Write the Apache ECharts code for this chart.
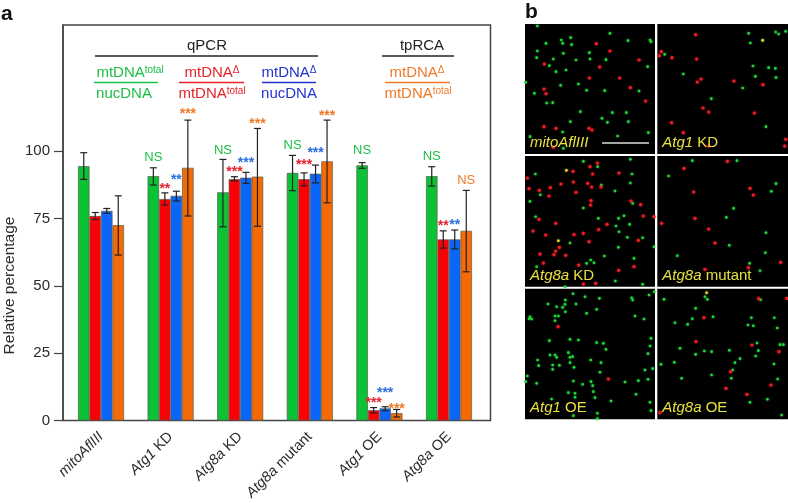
<!DOCTYPE html>
<html><head><meta charset="utf-8">
<style>html,body{margin:0;padding:0;background:#fff}#c{width:788px;height:503px}</style>
<script src="https://cdn.jsdelivr.net/npm/echarts@6/dist/echarts.min.js"></script>
</head><body><div id="c"></div>
<script>
const categories = ['{i|mitoAflIII}', '{i|Atg1} KD', '{i|Atg8a} KD', '{i|Atg8a} mutant', '{i|Atg1} OE', '{i|Atg8a} OE'];
const yTicks = [0, 25, 50, 75, 100];
const seriesNames = ['mtDNAtotal/nucDNA', 'mtDNAdelta/mtDNAtotal', 'mtDNAdelta/nucDNA', 'tpRCA'];
const greenVals  = [94.4, 90.7, 84.7, 91.9, 94.7, 90.7];
const redVals    = [75.9, 82.2, 89.6, 89.6, 3.8, 67.2];
const blueVals   = [77.8, 83.4, 90.1, 91.6, 4.5, 67.2];
const orangeVals = [72.5, 93.8, 90.5, 96.2, 2.7, 70.4];
const greenErr  = [[89.5,99.4],[87.4,93.8],[71.9,96.9],[85.3,98.4],[93.6,95.7],[87,94.2]];
const redErr    = [[74.6,77.2],[80,84.5],[88.9,90.5],[87.1,91.9],[2.8,4.8],[64,70.4]];
const blueErr   = [[76.9,78.7],[81.5,85.1],[88,92.1],[88.2,94.8],[3.6,5.1],[63.7,70.7]];
const orangeErr = [[61.4,83.4],[75.9,111.5],[72.1,108.4],[80.8,111.5],[1.3,4.1],[55.2,85.4]];
// group, series, y value of the text, text
const marks = [
 [1,0,97.7,'NS'],[1,1,87,'**'],[1,2,90.2,'**'],[1,3,114.9,'***'],
 [2,0,100.4,'NS'],[2,1,93.2,'***'],[2,2,96.7,'***'],[2,3,111.3,'***'],
 [3,0,102.2,'NS'],[3,1,96,'***'],[3,2,100.4,'***'],[3,3,113.9,'***'],
 [4,0,100.1,'NS'],[4,1,7.7,'***'],[4,2,11.4,'***'],[4,3,5.4,'***'],
 [5,0,97.9,'NS'],[5,1,73.4,'**'],[5,2,73.6,'**'],[5,3,89.1,'NS']
];
const p1Green=[[52,78],[78,130],[124,120],[128,130],[152,113],[155,134],[270,100],[324,122],[390,120],[393,125],[52,153],[130,160],[208,158],[210,177],[100,177],[168,180],[258,179],[88,197],[138,210],[383,200],[108,215],[17,247],[122,256],[175,252],[200,271],[254,272],[357,273],[43,280],[80,309],[98,308],[181,335],[277,338],[319,338],[246,355],[325,365],[262,367],[151,365],[128,396],[385,398],[293,408],[30,410],[130,445],[50,173]];
const p1Red=[[229,131],[270,153],[73,192],[357,180],[239,201],[208,234],[299,234],[72,267],[78,281],[331,263],[377,303],[72,380],[108,385],[207,385],[216,390],[100,442]];
const p1Yellow=[];
const p2Green=[[686,100],[767,96],[776,102],[797,94],[691,129],[434,163],[699,198],[746,203],[766,205],[706,229],[768,233],[490,222],[574,296],[668,264],[738,380]];
const p2Red=[[527,104],[424,155],[418,167],[456,173],[530,177],[543,237],[532,246],[642,243],[729,254],[549,324],[566,336],[703,339],[455,368],[490,398],[797,418],[794,438],[566,438]];
const p2Yellow=[[728,121]];
const p3Green=[[190,484],[331,478],[46,522],[233,500],[336,522],[331,549],[244,555],[285,573],[61,584],[30,604],[190,624],[338,610],[312,647],[47,650],[235,655],[296,655],[329,673],[288,678],[297,695],[368,713],[322,712],[150,729],[402,740],[295,742],[50,800],[200,790],[212,780],[222,788],[253,768],[342,775],[286,843],[368,853],[135,860]];
const p3Red=[[232,489],[210,500],[297,519],[218,522],[159,514],[22,534],[27,566],[58,571],[91,563],[123,552],[160,546],[203,550],[215,561],[243,561],[168,577],[87,588],[213,602],[333,603],[362,614],[212,615],[370,648],[402,650],[57,658],[107,670],[261,673],[236,689],[39,693],[77,705],[162,704],[190,700],[207,725],[355,721],[118,742],[60,762],[102,764],[107,753],[137,766],[70,789],[176,795],[296,811],[342,800],[190,852],[227,850]];
const p3Yellow=[[139,511],[115,722]];
const p4Green=[[517,482],[651,482],[446,528],[768,551],[754,574],[641,625],[619,652],[738,698],[628,736],[472,767],[736,758],[689,790],[720,812]];
const p4Red=[[622,484],[492,505],[690,565],[700,585],[521,576],[525,655],[425,670],[566,687],[585,729],[782,787],[685,803],[555,808]];
const p4Yellow=[];
const p5Green=[[159,131],[136,150],[135,163],[168,162],[136,185],[128,172],[110,170],[84,162],[195,140],[238,145],[335,143],[338,150],[387,135],[403,125],[30,200],[35,207],[27,206],[105,198],[115,198],[105,212],[200,190],[230,178],[345,198],[372,207],[150,268],[175,270],[88,272],[230,278],[250,280],[258,298],[393,265],[390,288],[384,311],[145,308],[150,322],[158,320],[105,315],[90,315],[110,322],[212,330],[53,330],[56,347],[98,345],[118,346],[150,338],[162,352],[243,338],[398,356],[375,360],[22,378],[17,395],[160,393],[188,403],[218,407],[315,396],[355,392],[384,388],[145,428],[165,430],[165,442],[220,425],[225,443],[348,433],[273,453],[95,447],[390,457],[393,482],[232,490],[160,497],[232,506],[50,400],[240,367],[98,358],[213,395]];
const p5Red=[[114,230],[265,387]];
const p5Yellow=[];
const p6Green=[[555,140],[562,148],[722,149],[432,148],[527,175],[517,206],[579,200],[465,218],[503,223],[694,203],[763,203],[684,225],[700,227],[772,234],[711,279],[780,284],[790,284],[480,295],[715,302],[707,318],[628,301],[527,313],[575,305],[660,326],[645,338],[423,343],[762,342],[638,360],[634,385],[485,385],[575,375],[773,387],[690,457],[742,448],[785,495],[553,303],[463,337]];
const p6Red=[[716,146],[800,145],[552,203],[528,275],[696,285],[777,305],[632,365],[618,415],[753,405],[681,433],[420,488]];
const p6Yellow=[[560,128]];
const panelLabels=['{i|mitoAflIII}','{i|Atg1} KD','{i|Atg8a} KD','{i|Atg8a} mutant','{i|Atg1} OE','{i|Atg8a} OE'];

const FONT='Liberation Sans';
const colors=['#0bc235','#fb0006','#0a66f8','#f56a04'];
const textColors=['#1cbf45','#e8232c','#2a6fe0','#ef7a2a'];
const vals=[greenVals,redVals,blueVals,orangeVals];
const errs=[greenErr,redErr,blueErr,orangeErr];
const BW=11.5, YMAX=146.8, TOP=25, BOTTOM=82.5;

const grids=[
 {left:63,right:297.5,top:TOP,bottom:BOTTOM,show:true,borderColor:'#444',borderWidth:1.5,backgroundColor:'#fff',z:0},
 {left:66.2,width:417.6,top:TOP,bottom:BOTTOM}
];
const xAxes=[
 {gridIndex:0,type:'value',min:0,max:1,show:false},
 {gridIndex:1,type:'category',data:categories,axisLine:{show:false},axisTick:{show:false},
  axisLabel:{rotate:45,interval:0,margin:14,fontFamily:FONT,fontSize:14.5,color:'#2a2a2a',
   rich:{i:{fontStyle:'italic',fontFamily:FONT,fontSize:14.5,color:'#2a2a2a'}}}}
];
const yAxes=[
 {gridIndex:0,type:'value',min:0,max:YMAX,splitLine:{show:false},
  axisLine:{show:true,lineStyle:{color:'#444',width:1.5}},
  axisTick:{show:true,length:9,customValues:yTicks,lineStyle:{color:'#444',width:1.2}},
  axisLabel:{margin:13,customValues:yTicks,fontFamily:FONT,fontSize:15,color:'#2a2a2a'}},
 {gridIndex:1,type:'value',min:0,max:YMAX,show:false}
];
const series=[];
vals.forEach((v,s)=>{
 series.push({type:'bar',name:seriesNames[s],xAxisIndex:1,yAxisIndex:1,data:v,barWidth:BW,barGap:0,
  itemStyle:{color:colors[s],borderColor:'#5a5a4a',borderWidth:0.7},z:3,silent:true});
});
errs.forEach((e,s)=>{
 series.push({type:'custom',xAxisIndex:1,yAxisIndex:1,z:5,silent:true,clip:false,
  data:e.map((d,i)=>[i,d[0],d[1]]),
  encode:{x:0,y:[1,2]},
  renderItem(p,api){
   const lo=api.coord([api.value(0),api.value(1)]), hi=api.coord([api.value(0),api.value(2)]);
   const x=lo[0]+(s-1.5)*BW, st={stroke:'#222',lineWidth:1.2};
   return {type:'group',children:[
    {type:'line',shape:{x1:x,y1:lo[1],x2:x,y2:hi[1]},style:st},
    {type:'line',shape:{x1:x-3.5,y1:lo[1],x2:x+3.5,y2:lo[1]},style:st},
    {type:'line',shape:{x1:x-3.5,y1:hi[1],x2:x+3.5,y2:hi[1]},style:st}]};
  }});
});
series.push({type:'custom',xAxisIndex:1,yAxisIndex:1,z:6,silent:true,clip:false,
 data:marks.map(m=>[m[0],m[2],m[1],m[3]]),
 encode:{x:0,y:1},
 renderItem(p,api){
  const m=marks[p.dataIndex], c=api.coord([m[0],m[2]]), star=m[3]!=='NS';
  return {type:'text',x:c[0]+(m[1]-1.5)*BW,y:c[1]+(star?3:0),style:{text:m[3],align:'center',verticalAlign:'middle',
   fontFamily:FONT,fontSize:star?14:13,fontWeight:star?'bold':'normal',fill:textColors[m[1]]}};
 }});

const panels=[
 [525,24,130,130,15,405,72,462,p1Green,p1Red,p1Yellow],
 [657.3,24,130.7,130,412,804,72,462,p2Green,p2Red,p2Yellow],
 [525,156,130,130.7,15,405,468,860,p3Green,p3Red,p3Yellow],
 [657.3,156,130.7,130.7,412,804,468,860,p4Green,p4Red,p4Yellow],
 [525,288.7,130,130.6,15,405,116,508,p5Green,p5Red,p5Yellow],
 [657.3,288.7,130.7,130.6,412,804,116,508,p6Green,p6Red,p6Yellow]
];
const dotCols=['#22d83c','#ee1c24','#e8e030'];
const graphics=[];
panels.forEach((p,i)=>{
 const g=grids.length;
 grids.push({left:p[0],top:p[1],width:p[2],height:p[3],show:true,backgroundColor:'#000',borderWidth:0});
 xAxes.push({gridIndex:g,type:'value',min:p[4],max:p[5],show:false});
 yAxes.push({gridIndex:g,type:'value',min:p[6],max:p[7],inverse:true,show:false});
 [p[8],p[9],p[10]].forEach((d,k)=>{
  series.push({type:'scatter',xAxisIndex:g,yAxisIndex:g,data:d,symbolSize:k===1?3.2:2.6,silent:true,clip:true,
   itemStyle:{color:dotCols[k],opacity:1,shadowBlur:2,shadowColor:dotCols[k]}});
 });
 graphics.push({type:'text',z:100,x:p[0]+5,y:p[1]+p[3]-11,style:{text:panelLabels[i],align:'left',verticalAlign:'middle',
  fontFamily:FONT,fontSize:15,fill:'#e8e040',rich:{i:{fontStyle:'italic',fontFamily:FONT,fontSize:15,fill:'#e8e040'}}}});
});
function txt(x,y,t,fill,extra){
 return Object.assign({type:'text',z:100,x,y,style:{text:t,align:'center',verticalAlign:'middle',fontFamily:FONT,fontSize:15,fill,
  rich:{s:{fontFamily:FONT,fontSize:10,fill,verticalAlign:'top',lineHeight:14,padding:[0,0,5,0]},n:{fontFamily:FONT,fontSize:15,fill}}}},extra||{});
}
function ln(x1,x2,y,stroke){return {type:'line',z:100,shape:{x1,y1:y,x2,y2:y},style:{stroke,lineWidth:1.3}};}
graphics.push(
 {type:'text',z:100,x:1,y:14,style:{text:'a',fontFamily:FONT,fontSize:21,fontWeight:'bold',fill:'#111',verticalAlign:'middle'}},
 {type:'text',z:100,x:525,y:12,style:{text:'b',fontFamily:FONT,fontSize:21,fontWeight:'bold',fill:'#111',verticalAlign:'middle'}},
 txt(207,46,'qPCR','#222'),ln(95,318,56,'#222'),
 txt(422,46,'tpRCA','#222'),ln(382,454,56,'#222'),
 txt(130,73,'{n|mtDNA}{s|total}',textColors[0]),ln(94,158,82.5,textColors[0]),txt(124,93.5,'nucDNA',textColors[0]),
 txt(212,73,'{n|mtDNA}{s|Δ}',textColors[1]),ln(179,244,82.5,textColors[1]),txt(212,93.5,'{n|mtDNA}{s|total}',textColors[1]),
 txt(289,73,'{n|mtDNA}{s|Δ}','#2233cc'),ln(262,316,82.5,'#2233cc'),txt(289,93.5,'nucDNA','#2233cc'),
 txt(417,73,'{n|mtDNA}{s|Δ}',textColors[3]),ln(385,450,82.5,textColors[3]),txt(418,93.5,'{n|mtDNA}{s|total}',textColors[3]),
 {type:'text',z:100,x:10,y:285.5,rotation:Math.PI/2,style:{text:'Relative percentage',align:'center',verticalAlign:'middle',fontFamily:FONT,fontSize:15.5,fill:'#2a2a2a'}},
 {type:'line',z:100,shape:{x1:602,y1:143,x2:649,y2:143},style:{stroke:'#ddd',lineWidth:1.5}}
);
const chart=echarts.init(document.getElementById('c'),null,{renderer:'canvas'});
chart.setOption({animation:false,backgroundColor:'#fff',textStyle:{fontFamily:FONT},grid:grids,xAxis:xAxes,yAxis:yAxes,series,graphic:graphics});
</script></body></html>
